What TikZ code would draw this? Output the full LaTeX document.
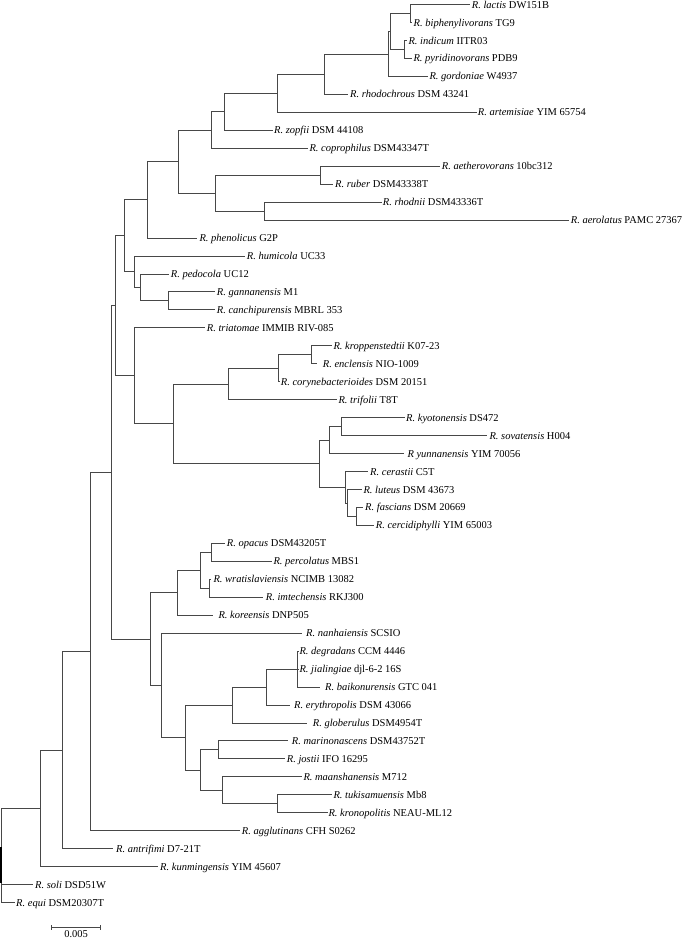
\documentclass[tikz,border=0pt]{standalone}
\usepackage{fontspec}
\setmainfont{Liberation Serif}
\usetikzlibrary{calc}
\tikzset{
  br/.style={draw=black!72, line width=0.75pt},
  lab/.style={anchor=base west, inner sep=0pt, yshift=-3.6pt, font=\fontsize{10.5}{12}\selectfont, text=black},
}
\newcommand\leaf[5]{\coordinate (e#2) at (#1,#2); \node[lab, xshift=#3pt] (l#2) at (e#2) {\textit{#4} #5};}
\begin{document}
\begin{tikzpicture}[x=1pt, y=-17.96pt]
\useasboundingbox (0,0.7494) rectangle (685,53.088);
% leaves
\leaf{470}{1}{1.7}{R. lactis}{DW151B}
\leaf{412}{2}{1.5}{R. biphenylivorans}{TG9}
\leaf{407}{3}{1.3}{R. indicum}{IITR03}
\leaf{412}{4}{1.3}{R. pyridinovorans}{PDB9}
\leaf{428.3}{5}{1}{R. gordoniae}{W4937}
\leaf{348.3}{6}{1.7}{R. rhodochrous}{DSM 43241}
\leaf{476.7}{7}{1}{R. artemisiae}{YIM 65754}
\leaf{272.7}{8}{1.3}{R. zopfii}{DSM 44108}
\leaf{308.3}{9}{1}{R. coprophilus}{DSM43347T}
\leaf{440}{10}{1.7}{R. aetherovorans}{10bc312}
\leaf{333.3}{11}{1.7}{R. ruber}{DSM43338T}
\leaf{381.7}{12}{1}{R. rhodnii}{DSM43336T}
\leaf{569.3}{13}{1.4}{R. aerolatus}{PAMC 27367}
\leaf{196.7}{14}{2.6}{R. phenolicus}{G2P}
\leaf{245}{15}{1.7}{R. humicola}{UC33}
\leaf{169.3}{16}{1.4}{R. pedocola}{UC12}
\leaf{215}{17}{1.7}{R. gannanensis}{M1}
\leaf{215}{18}{1.7}{R. canchipurensis}{MBRL 353}
\leaf{205}{19}{1.7}{R. triatomae}{IMMIB RIV-085}
\leaf{331.7}{20}{1.6}{R. kroppenstedtii}{K07-23}
\leaf{316.7}{21}{6}{R. enclensis}{NIO-1009}
\leaf{280}{22}{0.7}{R. corynebacterioides}{DSM 20151}
\leaf{336.7}{23}{1.6}{R. trifolii}{T8T}
\leaf{405}{24}{1}{R. kyotonensis}{DS472}
\leaf{487.3}{25}{2}{R. sovatensis}{H004}
\leaf{404}{26}{3.3}{R yunnanensis}{YIM 70056}
\leaf{368.3}{27}{1.7}{R. cerastii}{C5T}
\leaf{361.7}{28}{1.6}{R. luteus}{DSM 43673}
\leaf{363.3}{29}{1.7}{R. fascians}{DSM 20669}
\leaf{374}{30}{1.7}{R. cercidiphylli}{YIM 65003}
\leaf{225}{31}{1.7}{R. opacus}{DSM43205T}
\leaf{271.7}{32}{1.6}{R. percolatus}{MBS1}
\leaf{211}{33}{2.3}{R. wratislaviensis}{NCIMB 13082}
\leaf{263.3}{34}{2.4}{R. imtechensis}{RKJ300}
\leaf{213.3}{35}{5}{R. koreensis}{DNP505}
\leaf{301.7}{36}{4.3}{R. nanhaiensis}{SCSIO}
\leaf{298.5}{37}{0.8}{R. degradans}{CCM 4446}
\leaf{298.5}{38}{0.8}{R. jialingiae}{djl-6-2 16S}
\leaf{320}{39}{5}{R. baikonurensis}{GTC 041}
\leaf{290}{40}{4}{R. erythropolis}{DSM 43066}
\leaf{306.7}{41}{6}{R. globerulus}{DSM4954T}
\leaf{288.3}{42}{3.4}{R. marinonascens}{DSM43752T}
\leaf{285}{43}{1.7}{R. jostii}{IFO 16295}
\leaf{301.7}{44}{1.6}{R. maanshanensis}{M712}
\leaf{331.7}{45}{1.6}{R. tukisamuensis}{Mb8}
\leaf{327.7}{46}{0.6}{R. kronopolitis}{NEAU-ML12}
\leaf{240}{47}{1.7}{R. agglutinans}{CFH S0262}
\leaf{113.3}{48}{2.7}{R. antrifimi}{D7-21T}
\leaf{158.3}{49}{1.7}{R. kunmingensis}{YIM 45607}
\leaf{33.3}{50}{1.7}{R. soli}{DSD51W}
\leaf{15}{51}{1}{R. equi}{DSM20307T}
% internal nodes
\coordinate (nlb) at (410.7,1.5);
\coordinate (nip) at (404,3.5);
\coordinate (na) at (390.7,2.5);
\coordinate (nb) at (388.3,3.75);
\coordinate (nc) at (324,4.875);
\coordinate (nd) at (277.3,5.9375);
\coordinate (ne) at (224,6.96875);
\coordinate (nf) at (211,7.984);
\coordinate (nar) at (320.7,10.5);
\coordinate (nrh) at (264.3,12.5);
\coordinate (ng) at (215.7,11.5);
\coordinate (nX) at (178.3,9.742);
\coordinate (nY) at (147.7,11.871);
\coordinate (ngc) at (168.3,17.5);
\coordinate (npe) at (140.3,16.75);
\coordinate (nhu) at (134.5,15.875);
\coordinate (nP) at (124.5,13.873);
\coordinate (nke) at (311.7,20.5);
\coordinate (nkc) at (278.3,21.25);
\coordinate (nkt) at (228.3,22.125);
\coordinate (nks) at (341.7,24.5);
\coordinate (nky) at (329,25.25);
\coordinate (nfc) at (356.7,29.5);
\coordinate (nlu) at (347.7,28.75);
\coordinate (nce) at (345,27.875);
\coordinate (nkyc) at (319,26.5625);
\coordinate (nZ) at (173.3,24.34);
\coordinate (nW) at (134,21.67);
\coordinate (nQ) at (115.7,17.77);
\coordinate (nop) at (211.7,31.5);
\coordinate (nwi) at (209.3,33.5);
\coordinate (now) at (200,32.5);
\coordinate (nko) at (177.3,33.75);
\coordinate (ndj) at (297.7,38);
\coordinate (ner) at (266,39);
\coordinate (ngl) at (232.7,40);
\coordinate (nmj) at (218.3,42.5);
\coordinate (ntk) at (277.7,45.5);
\coordinate (nma) at (222.7,44.75);
\coordinate (nmm) at (200,43.625);
\coordinate (nG) at (185,41.8125);
\coordinate (nF) at (161.7,38.906);
\coordinate (nE) at (150,36.33);
\coordinate (nD) at (111.7,27.05);
\coordinate (nC) at (90,37.02);
\coordinate (nB) at (62.7,42.51);
\coordinate (nA) at (40.3,45.76);
\coordinate (root) at (1,48.38);
% branches
\foreach \p/\c in {nlb/e1,nlb/e2,nip/e3,nip/e4,na/nlb,na/nip,nb/na,nb/e5,nc/nb,nc/e6,
  nd/nc,nd/e7,ne/nd,ne/e8,nf/ne,nf/e9,nar/e10,nar/e11,nrh/e12,nrh/e13,ng/nar,ng/nrh,
  nX/nf,nX/ng,nY/nX,nY/e14,ngc/e17,ngc/e18,npe/e16,npe/ngc,nhu/e15,nhu/npe,nP/nY,nP/nhu,
  nke/e20,nke/e21,nkc/nke,nkc/e22,nkt/nkc,nkt/e23,nks/e24,nks/e25,nky/nks,nky/e26,
  nfc/e29,nfc/e30,nlu/e28,nlu/nfc,nce/e27,nce/nlu,nkyc/nky,nkyc/nce,nZ/nkt,nZ/nkyc,
  nW/e19,nW/nZ,nQ/nP,nQ/nW,nop/e31,nop/e32,nwi/e33,nwi/e34,now/nop,now/nwi,nko/now,nko/e35,
  ndj/e37,ndj/e38,ndj/e39,ner/ndj,ner/e40,ngl/ner,ngl/e41,nmj/e42,nmj/e43,ntk/e45,ntk/e46,
  nma/e44,nma/ntk,nmm/nmj,nmm/nma,nG/ngl,nG/nmm,nF/e36,nF/nG,nE/nko,nE/nF,nD/nQ,nD/nE,
  nC/nD,nC/e47,nB/nC,nB/e48,nA/nB,nA/e49,root/nA,root/e50,root/e51}
  \draw[br] (\p) |- (\c);
\draw[line width=1.4pt, black] (1,47.91) -- (1,49.91);
% scale bar
\coordinate (sba) at (51.7,52.40);
\coordinate (sbb) at (100.5,52.40);
\draw[br] (sba) -- (sbb);
\draw[br] ([yshift=2.6pt]sba) -- ([yshift=-2.6pt]sba);
\draw[br] ([yshift=2.6pt]sbb) -- ([yshift=-2.6pt]sbb);
\node[font=\fontsize{10.5}{12}\selectfont, inner sep=0pt, anchor=north] (sbl) at ($(sba)!0.5!(sbb)+(0,-3pt)$) {0.005};
\end{tikzpicture}
\end{document}
